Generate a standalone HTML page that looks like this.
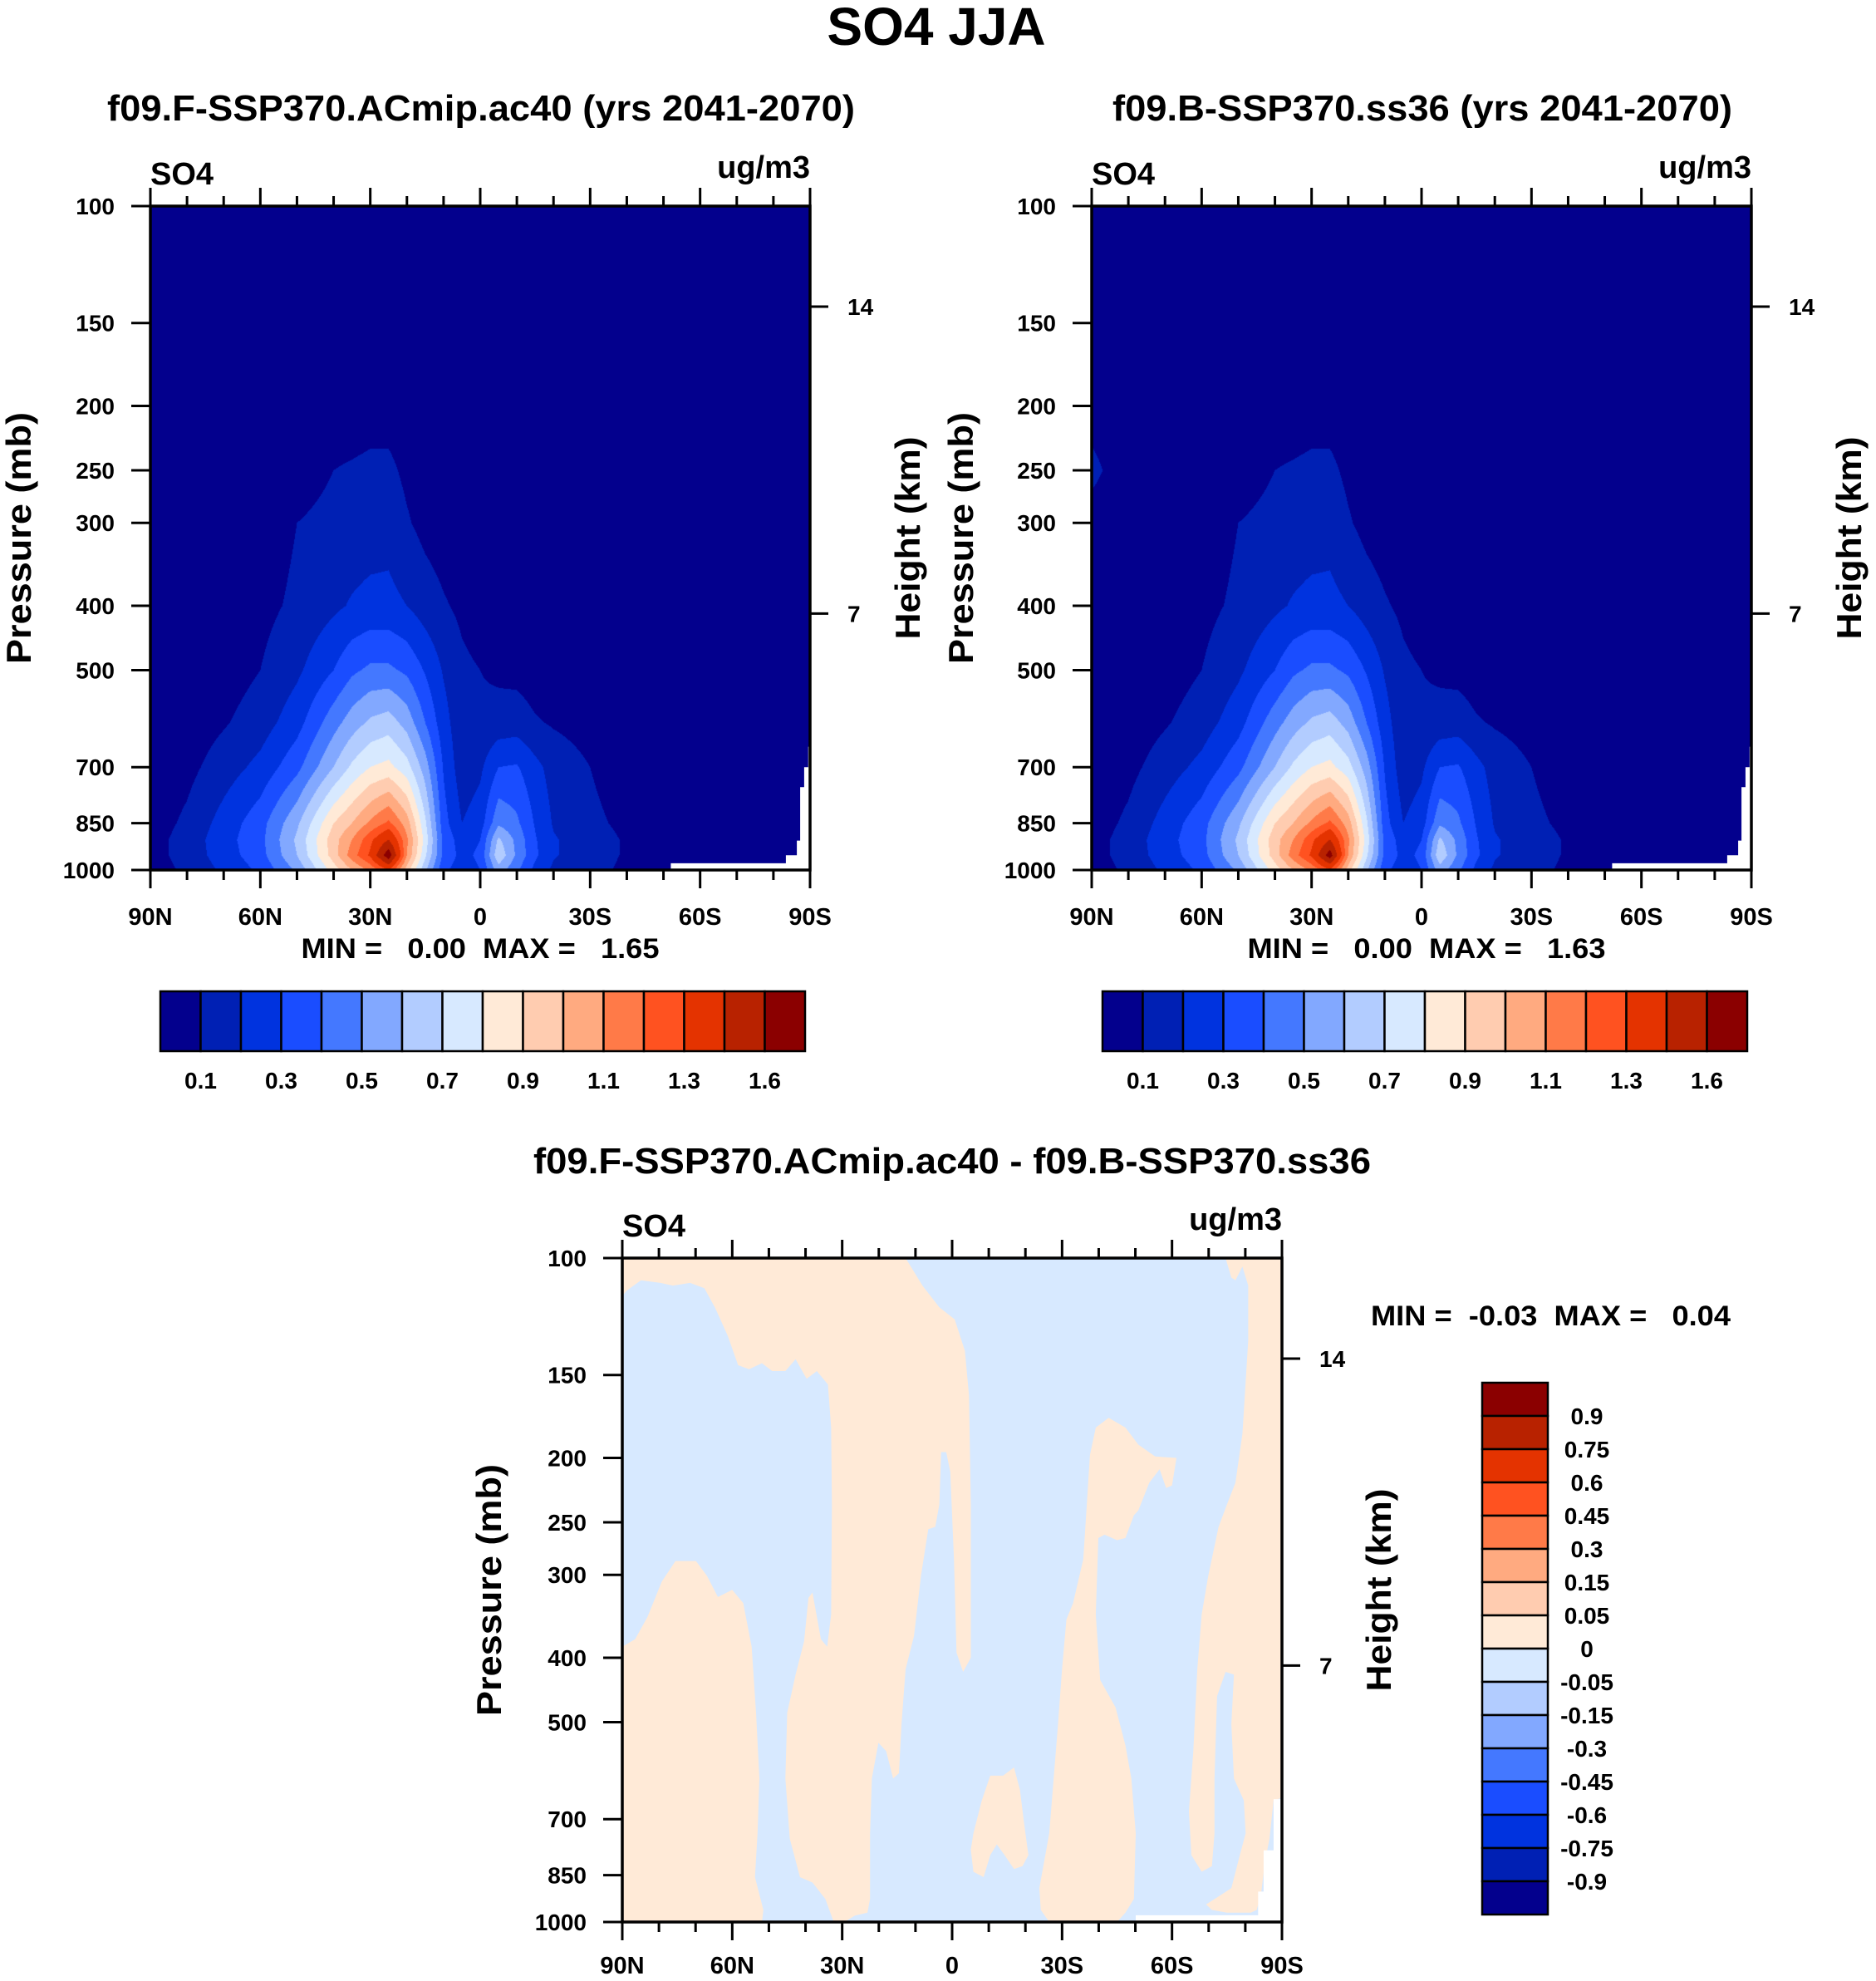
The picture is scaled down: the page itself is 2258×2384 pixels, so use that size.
<!DOCTYPE html>
<html><head><meta charset="utf-8">
<style>
html,body{margin:0;padding:0;background:#fff;}
#wrap{position:relative;width:2258px;height:2384px;overflow:hidden;background:#fff;}
canvas{position:absolute;}
svg{position:absolute;left:0;top:0;}
text{font-family:"Liberation Sans",Arial,sans-serif;font-weight:bold;fill:#000;}
</style></head>
<body>
<div id="wrap">
<canvas id="cv1" width="794" height="799" style="left:181px;top:248px"></canvas>
<canvas id="cv2" width="794" height="799" style="left:1314px;top:248px"></canvas>
<svg id="svg" width="2258" height="2384" xmlns="http://www.w3.org/2000/svg">
<text x="1127" y="54" font-size="64" text-anchor="middle">SO4 JJA</text>
<text x="579" y="145" font-size="44" text-anchor="middle" textLength="900" lengthAdjust="spacingAndGlyphs">f09.F-SSP370.ACmip.ac40 (yrs 2041-2070)</text>
<text x="1712" y="145" font-size="44" text-anchor="middle" textLength="746" lengthAdjust="spacingAndGlyphs">f09.B-SSP370.ss36 (yrs 2041-2070)</text>
<text x="1146" y="1412" font-size="44" text-anchor="middle" textLength="1008" lengthAdjust="spacingAndGlyphs">f09.F-SSP370.ACmip.ac40 - f09.B-SSP370.ss36</text>
<text x="578" y="1153" font-size="34" text-anchor="middle" xml:space="preserve" textLength="431" lengthAdjust="spacingAndGlyphs">MIN =   0.00  MAX =   1.65</text>
<text x="1717" y="1153" font-size="34" text-anchor="middle" xml:space="preserve" textLength="431" lengthAdjust="spacingAndGlyphs">MIN =   0.00  MAX =   1.63</text>
<text x="1650" y="1595" font-size="34" xml:space="preserve" textLength="433" lengthAdjust="spacingAndGlyphs">MIN =  -0.03  MAX =   0.04</text>
</svg>
</div>
<script>
// ---------- data ----------
const lats = [90,80,70,60,50,40,35,30,25,20,15,10,5,0,-5,-10,-15,-20,-30,-40,-50,-60,-70,-80,-90];
const levels = [1000,950,900,850,700,600,500,400,300,250,200,150,100];
// panel F (ac40) values per pressure level, across lats
const f_p1000 = [0.05,0.12,0.22,0.32,0.52,0.85,1.00,1.12,1.30,0.95,0.62,0.32,0.25,0.30,0.55,0.42,0.27,0.18,0.13,0.08,0.04,0.03,0.03,0.03,0.03];
const f_p950  = [0.06,0.14,0.25,0.36,0.60,0.95,1.15,1.32,1.70,1.10,0.72,0.37,0.27,0.32,0.68,0.48,0.32,0.21,0.14,0.09,0.04,0.03,0.03,0.03,0.03];
const f_p900  = [0.06,0.14,0.26,0.37,0.62,0.96,1.10,1.27,1.45,1.12,0.76,0.37,0.25,0.30,0.62,0.47,0.31,0.21,0.14,0.09,0.04,0.03,0.03,0.03,0.03];
const f_p850  = [0.05,0.12,0.24,0.36,0.58,0.90,1.00,1.12,1.22,1.05,0.72,0.34,0.20,0.25,0.48,0.42,0.29,0.19,0.12,0.08,0.04,0.03,0.03,0.03,0.03];
const f_p700  = [0.03,0.07,0.15,0.23,0.37,0.60,0.72,0.80,0.83,0.74,0.55,0.29,0.14,0.18,0.30,0.31,0.23,0.16,0.10,0.05,0.03,0.02,0.02,0.02,0.02];
const f_p600  = [0.02,0.04,0.09,0.15,0.26,0.46,0.55,0.62,0.65,0.56,0.40,0.24,0.13,0.12,0.14,0.15,0.11,0.09,0.06,0.03,0.02,0.02,0.02,0.02,0.02];
const f_p500  = [0.02,0.02,0.05,0.10,0.18,0.30,0.38,0.42,0.42,0.38,0.29,0.19,0.12,0.10,0.08,0.07,0.05,0.04,0.03,0.02,0.02,0.02,0.02,0.02,0.02];
const f_p400  = [0.02,0.02,0.03,0.07,0.12,0.18,0.21,0.23,0.23,0.20,0.15,0.11,0.08,0.05,0.04,0.03,0.03,0.03,0.02,0.02,0.02,0.02,0.02,0.02,0.02];
const f_p300  = [0.02,0.02,0.02,0.04,0.10,0.13,0.14,0.15,0.16,0.11,0.07,0.05,0.04,0.03,0.03,0.02,0.02,0.02,0.02,0.02,0.02,0.02,0.02,0.02,0.02];
const f_p250  = [0.02,0.02,0.02,0.03,0.05,0.10,0.11,0.12,0.12,0.08,0.05,0.03,0.03,0.02,0.02,0.02,0.02,0.02,0.02,0.02,0.02,0.02,0.02,0.02,0.02];
const f_p200  = [0.02,0.02,0.02,0.02,0.03,0.05,0.05,0.06,0.06,0.05,0.03,0.02,0.02,0.02,0.02,0.02,0.02,0.02,0.02,0.02,0.02,0.02,0.02,0.02,0.02];
const f_p150  = [0.02,0.02,0.02,0.02,0.02,0.02,0.02,0.02,0.02,0.02,0.02,0.02,0.02,0.02,0.02,0.02,0.02,0.02,0.02,0.02,0.02,0.02,0.02,0.02,0.02];
const f_p100  = [0.01,0.01,0.01,0.01,0.01,0.01,0.01,0.01,0.01,0.01,0.01,0.01,0.01,0.01,0.01,0.01,0.01,0.01,0.01,0.01,0.01,0.01,0.01,0.01,0.01];
// panel B (ss36)
const b_p1000 = [0.05,0.12,0.22,0.32,0.52,0.85,1.00,1.12,1.28,0.95,0.62,0.32,0.25,0.30,0.55,0.42,0.27,0.18,0.13,0.08,0.04,0.03,0.03,0.03,0.03];
const b_p950  = [0.06,0.14,0.25,0.36,0.60,0.95,1.15,1.32,1.68,1.10,0.72,0.37,0.27,0.32,0.68,0.48,0.32,0.21,0.14,0.09,0.04,0.03,0.03,0.03,0.03];
const b_p900  = [0.06,0.14,0.26,0.37,0.62,0.96,1.10,1.27,1.45,1.12,0.76,0.37,0.25,0.30,0.62,0.47,0.31,0.21,0.14,0.09,0.04,0.03,0.03,0.03,0.03];
const b_p850  = [0.05,0.12,0.24,0.36,0.58,0.90,1.00,1.12,1.22,1.05,0.72,0.34,0.20,0.25,0.48,0.42,0.29,0.19,0.12,0.08,0.04,0.03,0.03,0.03,0.03];
const b_p700  = [0.03,0.07,0.15,0.23,0.37,0.60,0.72,0.80,0.83,0.74,0.55,0.29,0.14,0.18,0.30,0.31,0.23,0.16,0.10,0.05,0.03,0.02,0.02,0.02,0.02];
const b_p600  = [0.02,0.04,0.09,0.15,0.26,0.46,0.55,0.62,0.65,0.56,0.40,0.24,0.13,0.12,0.14,0.15,0.11,0.09,0.06,0.03,0.02,0.02,0.02,0.02,0.02];
const b_p500  = [0.02,0.02,0.05,0.10,0.18,0.30,0.38,0.42,0.42,0.38,0.29,0.19,0.12,0.10,0.08,0.07,0.05,0.04,0.03,0.02,0.02,0.02,0.02,0.02,0.02];
const b_p400  = [0.02,0.02,0.03,0.07,0.12,0.18,0.21,0.23,0.23,0.20,0.15,0.11,0.08,0.05,0.04,0.03,0.03,0.03,0.02,0.02,0.02,0.02,0.02,0.02,0.02];
const b_p300  = [0.05,0.02,0.02,0.04,0.10,0.13,0.14,0.15,0.16,0.11,0.07,0.05,0.04,0.03,0.03,0.02,0.02,0.02,0.02,0.02,0.02,0.02,0.02,0.02,0.02];
const b_p250  = [0.13,0.03,0.02,0.03,0.05,0.10,0.11,0.12,0.12,0.08,0.05,0.03,0.03,0.02,0.02,0.02,0.02,0.02,0.02,0.02,0.02,0.02,0.02,0.02,0.02];
const b_p200  = [0.05,0.02,0.02,0.02,0.03,0.05,0.05,0.06,0.06,0.05,0.03,0.02,0.02,0.02,0.02,0.02,0.02,0.02,0.02,0.02,0.02,0.02,0.02,0.02,0.02];
const b_p150  = [0.02,0.02,0.02,0.02,0.02,0.02,0.02,0.02,0.02,0.02,0.02,0.02,0.02,0.02,0.02,0.02,0.02,0.02,0.02,0.02,0.02,0.02,0.02,0.02,0.02];
const b_p100  = [0.01,0.01,0.01,0.01,0.01,0.01,0.01,0.01,0.01,0.01,0.01,0.01,0.01,0.01,0.01,0.01,0.01,0.01,0.01,0.01,0.01,0.01,0.01,0.01,0.01];

const contourLevels = [0.1,0.2,0.3,0.4,0.5,0.6,0.7,0.8,0.9,1.0,1.1,1.2,1.3,1.45,1.6];
const colorbarLabels = ['0.1','0.3','0.5','0.7','0.9','1.1','1.3','1.6'];
const diffLabels = ['0.9','0.75','0.6','0.45','0.3','0.15','0.05','0','-0.05','-0.15','-0.3','-0.45','-0.6','-0.75','-0.9'];
const latTickLabels = ['90N','60N','30N','0','30S','60S','90S'];
const latTicks = [90,60,30,0,-30,-60,-90];
const presTicks = [100,150,200,250,300,400,500,700,850,1000];
const heightTickLabels = ['14','7'];
const heightTickPres = [141.7,410.9];

const maskTopLat = [-89.5,-90,-90,-52,-52,-83.4,-83.4,-86.4,-86.4,-87.3,-87.3,-88.4,-88.4,-89.5];
const maskTopP   = [652,652,1000,1000,977,977,950,950,903,903,750,750,700,700];
const maskDiffLat = [-87.7,-90,-90,-50.1,-50.1,-83.5,-83.5,-85,-85,-87.7];
const maskDiffP   = [653,653,1000,1000,977,977,900,900,780,780];

const posA_lat = [90,86.5,83.1,79.2,75.5,69.9,66.9,63.9,60,57,54.7,53.5,52.6,53.1,53.8,51.5,51.9,90];
const posA_p   = [385,375,347,307,286,286,301,324,316,331,385,484,608,735,856,959,1000,1000];
const posB_lat = [90,12.7,8.1,3.5,-0.7,-3.5,-4.6,-5.1,-5.1,-3,-1.2,-0.5,0.5,1.6,3,3.5,4.6,6.5,8.5,10.4,12.7,13.8,14.5,16.1,18,20.1,21.9,22.4,22.4,23.1,26.5,29.5,32.3,34.6,38.1,41.5,44.3,45.5,45,42.7,40.4,39.2,38.1,35.8,34.1,33,32.8,33,33.9,36.9,39.7,42.7,45.5,49.1,51.9,55.4,58.4,61.2,64.6,67.6,71.5,76.2,79.6,84.9,88.8,90];
const posB_p   = [100,100,110,118.6,123.7,138,161,235,400,420,393,284,210,196,196,235,254,256,301,371,416,503,597,608,553,537,608,735,923,968,978,1000,1000,923,872,856,749,608,484,424,378,325,319,375,385,344,235,180,155,148,152,142,148,148,144,147,145,131,119,111,109,110,109,108,112,114];
const posC_lat = [-31.2,-33,-35.8,-37.6,-39.2,-42.7,-47.3,-50.8,-55.4,-61.2,-60,-58.4,-56.6,-53.8,-50.8,-49.6,-47.3,-45,-41.6,-39.9,-39.2,-40.4,-44.6,-47.3,-48.9,-50.1,-49.6,-47.3,-45,-26.5,-24.2,-23.8,-26.5,-28.9,-30];
const posC_p   = [350,331,284,198,180,174,180,191,199,200,220,222,208,218,240,244,264,266,261,264,344,432,475,542,608,735,923,968,1000,1000,959,889,735,503,416];
const posD_lat = [-5.8,-8.1,-10.4,-13.9,-16.9,-18.5,-19.6,-20.8,-19.2,-16.9,-14.3,-12.2,-10.4,-8.6,-5.8,-5.1];
const posD_p   = [735,656,602,602,585,632,708,793,824,832,793,764,793,856,840,778];
const posE_lat = [-74.6,-90,-90,-87.7,-86.6,-85.4,-84.3,-83.1,-81.5,-75,-70.9,-69.3,-72.7,-76.2,-78.5,-80.1,-79.6,-76.9,-76.2,-76.9,-74.6,-72.3,-71.6,-71.6,-70.9,-68.1,-65.3,-64.6,-65.8,-66.9,-68.1,-69.9,-72.7,-75,-77.3,-79.2,-80.8,-80.8,-79.2,-77.3,-76.2];
const posE_p   = [100,100,650,656,749,809,906,959,968,968,959,941,915,889,793,735,656,608,503,424,420,457,608,735,824,840,793,681,553,416,344,301,254,235,218,184,133,110,103,108,107];

// ---------- rendering ----------
const COLORS = ['#03008D','#0020B4','#0033DF','#1A4DFF','#4478FF','#82A8FF','#B2CCFF','#D7E9FF','#FFEAD7','#FFCCB0','#FFAA80','#FF7A48','#FF5220','#E43300','#B82200','#8B0000'];
const NEG = '#D7E9FF', POS = '#FFEAD7';
const W = 794, H = 799;
const panels = [{x0:181,y0:248},{x0:1314,y0:248},{x0:749,y0:1514}];
function xS(pn, lat){ return panels[pn].x0 + (90-lat)/180*W; }
function yS(pn, p){ return panels[pn].y0 + Math.log10(p/100)*H; }
const NS = 'http://www.w3.org/2000/svg';
const svg = document.getElementById('svg');
function mk(tag, attrs){ const e=document.createElementNS(NS,tag); for(const k in attrs) e.setAttribute(k,attrs[k]); svg.appendChild(e); return e; }
function hexRGB(h){ return [parseInt(h.slice(1,3),16),parseInt(h.slice(3,5),16),parseInt(h.slice(5,7),16)]; }

function drawField(cvId, rows){
  const cv=document.getElementById(cvId), ctx=cv.getContext('2d');
  const img=ctx.createImageData(W,H);
  const logL=levels.map(v=>Math.log10(v));
  const rgb=COLORS.map(hexRGB);
  for(let py=0;py<H;py++){
    const lp=2+(py+0.5)/H;
    let j=0; while(j<levels.length-2 && lp<logL[j+1]) j++;
    const ty=(logL[j]-lp)/(logL[j]-logL[j+1]);
    for(let px=0;px<W;px++){
      const lat=90-180*(px+0.5)/W;
      let i=0; while(i<lats.length-2 && lat<lats[i+1]) i++;
      const tx=(lats[i]-lat)/(lats[i]-lats[i+1]);
      const v=(1-ty)*((1-tx)*rows[j][i]+tx*rows[j][i+1])+ty*((1-tx)*rows[j+1][i]+tx*rows[j+1][i+1]);
      let k=0; while(k<contourLevels.length && v>=contourLevels[k]) k++;
      const c=rgb[k], o=(py*W+px)*4;
      img.data[o]=c[0];img.data[o+1]=c[1];img.data[o+2]=c[2];img.data[o+3]=255;
    }
  }
  ctx.putImageData(img,0,0);
}
drawField('cv1',[f_p1000,f_p950,f_p900,f_p850,f_p700,f_p600,f_p500,f_p400,f_p300,f_p250,f_p200,f_p150,f_p100]);
drawField('cv2',[b_p1000,b_p950,b_p900,b_p850,b_p700,b_p600,b_p500,b_p400,b_p300,b_p250,b_p200,b_p150,b_p100]);

function polyPts(pn, la, pr){ return la.map((l,i)=>xS(pn,l).toFixed(1)+','+yS(pn,pr[i]).toFixed(1)).join(' '); }

for(let pn=0;pn<2;pn++){
  const m=mk('polygon',{points:polyPts(pn,maskTopLat,maskTopP),fill:'#fff'});
  
  
}
const bg=mk('rect',{x:panels[2].x0,y:panels[2].y0,width:W,height:H,fill:NEG});


const posRegions=[[posA_lat,posA_p],[posB_lat,posB_p],[posC_lat,posC_p],[posD_lat,posD_p],[posE_lat,posE_p]];
posRegions.forEach((r)=>{
  const e=mk('polygon',{points:polyPts(2,r[0],r[1]),fill:POS});
  
  
});
const md=mk('polygon',{points:polyPts(2,maskDiffLat,maskDiffP),fill:'#fff'});



for(let pn=0;pn<3;pn++){
  const x0=panels[pn].x0, y0=panels[pn].y0;
  const fr=mk('rect',{x:x0,y:y0,width:W,height:H,fill:'none',stroke:'#000','stroke-width':3.5});
  
  
  for(let lat=90;lat>=-90;lat-=10){
    const major=(lat%30===0), L=major?22:12, x=xS(pn,lat);
    const t1=mk('line',{x1:x,y1:y0,x2:x,y2:y0-L,stroke:'#000','stroke-width':3});
    
    
    const t2=mk('line',{x1:x,y1:y0+H,x2:x,y2:y0+H+L,stroke:'#000','stroke-width':3});
    
    
  }
  const xlY = pn<2 ? 1113 : 2375;
  latTicks.forEach((lat,i)=>{
    const t=mk('text',{x:xS(pn,lat),y:xlY,'font-size':29,'text-anchor':'middle'});
    t.textContent=latTickLabels[i];
    
    
  });
  presTicks.forEach(p=>{
    const y=yS(pn,p);
    const tk=mk('line',{x1:x0-23,y1:y,x2:x0,y2:y,stroke:'#000','stroke-width':3});
    
    
    const t=mk('text',{x:x0-43,y:y+10,'font-size':28,'text-anchor':'end'});
    t.textContent=String(p);
    
    
  });
  heightTickPres.forEach((p,i)=>{
    const y=yS(pn,p);
    const tk=mk('line',{x1:x0+W,y1:y,x2:x0+W+22,y2:y,stroke:'#000','stroke-width':3});
    
    
    const t=mk('text',{x:x0+W+45,y:y+10,'font-size':28});
    t.textContent=heightTickLabels[i];
    
    
  });
  const s=mk('text',{x:x0,y:y0-26,'font-size':38});
  s.textContent='SO4';
  
  
  const u=mk('text',{x:x0+W,y:y0-34,'font-size':38,'text-anchor':'end'});
  u.textContent='ug/m3';
  
  
  const cy=y0+H/2;
  const pxl = pn===0?23:(pn===1?1157:589);
  const hxl = pn===0?1093:(pn===1?2226:1660);
  const pt=mk('text',{x:pxl+14,y:cy,'font-size':42,'text-anchor':'middle',transform:'rotate(-90 '+(pxl+14)+' '+cy+')',textLength:303,lengthAdjust:'spacingAndGlyphs'});
  pt.textContent='Pressure (mb)';
  
  
  const ht=mk('text',{x:hxl+14,y:cy,'font-size':42,'text-anchor':'middle',transform:'rotate(-90 '+(hxl+14)+' '+cy+')',textLength:244,lengthAdjust:'spacingAndGlyphs'});
  ht.textContent='Height (km)';
  
  
}

[[193,969],[1327,2103]].forEach(([a,b])=>{
  const bw=(b-a)/16;
  COLORS.forEach((c,i)=>{
    const r=mk('rect',{x:a+i*bw,y:1193,width:bw,height:72,fill:c,stroke:'#000','stroke-width':2.5});
    
    
  });
  colorbarLabels.forEach((l,i)=>{
    const t=mk('text',{x:a+(1+2*i)*bw,y:1310,'font-size':28,'text-anchor':'middle'});
    t.textContent=l;
    
    
  });
});
const vb=40;
COLORS.slice().reverse().forEach((c,i)=>{
  const r=mk('rect',{x:1784,y:1664+i*vb,width:79,height:vb,fill:c,stroke:'#000','stroke-width':2.5});
  
  
});
diffLabels.forEach((l,i)=>{
  const t=mk('text',{x:1910,y:1664+(i+1)*vb+10,'font-size':28,'text-anchor':'middle'});
  t.textContent=l;
  
  
});
</script>
</body></html>
